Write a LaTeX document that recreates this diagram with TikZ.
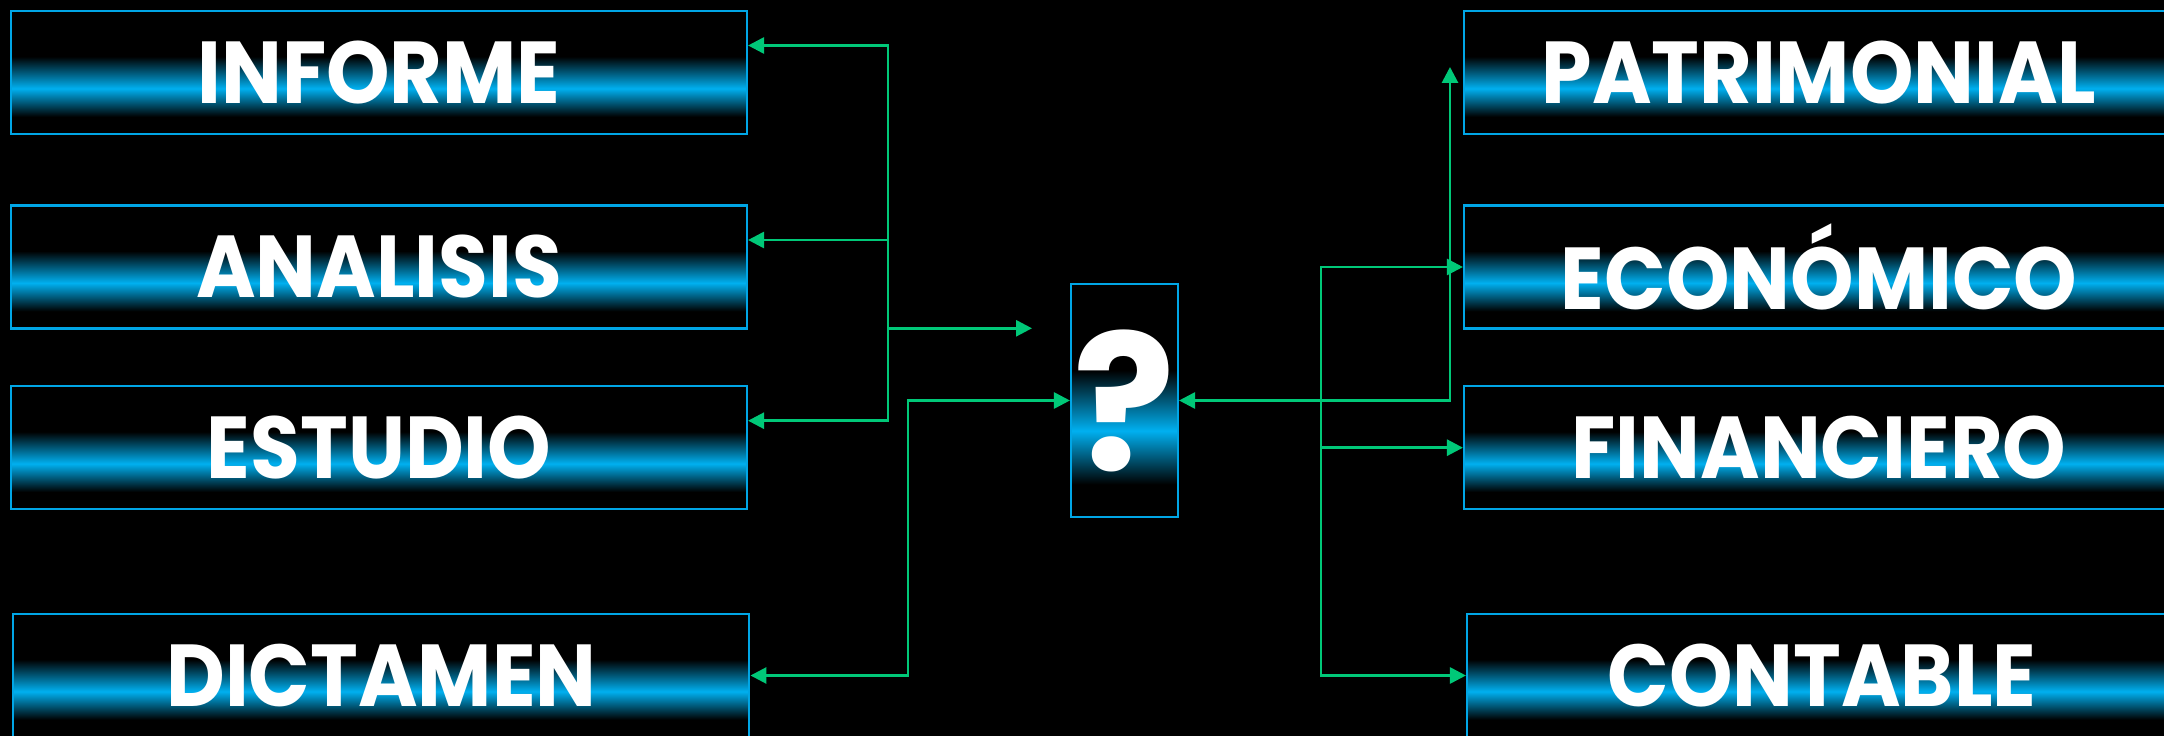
\documentclass[tikz,border=0pt]{standalone}
\usepackage{fontspec}
\setmainfont{Poppins}
\usepackage{tikz}
\usetikzlibrary{arrows.meta,positioning,calc}
\definecolor{bandcyan}{HTML}{00B0F0}
\definecolor{rimblue}{HTML}{00A6E6}
\definecolor{linkgreen}{HTML}{00C878}
\pgfdeclareverticalshading{glowband}{100bp}{color(0bp)=(black); color(32bp)=(black);
  color(43.5bp)=(bandcyan); color(56.5bp)=(black); color(100bp)=(black)}
\newcommand{\narrowtext}[1]{\scalebox{.92}[1]{#1}}
\tikzset{
  tagbox/.style={draw=rimblue,line width=0.6pt,shading=glowband,
    minimum width=7.36cm,minimum height=1.23cm,inner sep=0pt,
    text=white,font=\fontsize{25}{25}\selectfont\bfseries},
  rtagbox/.style={tagbox,minimum width=7.1cm},
  qbox/.style={draw=rimblue,line width=0.6pt,shading=glowband,
    minimum width=1.07cm,minimum height=2.33cm,inner sep=0pt,
    text=white,font=\fontsize{54}{54}\selectfont\bfseries},
  link/.style={draw=linkgreen,line width=0.8pt,
    -{Triangle[length=0.16cm,width=0.16cm]}},
  link2/.style={link,{Triangle[length=0.16cm,width=0.16cm]}-{Triangle[length=0.16cm,width=0.16cm]}}
}
\begin{document}
\begin{tikzpicture}
  \clip (0,0) rectangle (21.64,7.36);
  \fill[black] (0,0) rectangle (21.64,7.36);
  % left column
  \node[tagbox] (informe) at (3.79,6.635) {\narrowtext{INFORME}};
  \node[tagbox] (analisis) at (3.79,4.69) {\narrowtext{ANALISIS}};
  \node[tagbox] (estudio) at (3.79,2.883) {\narrowtext{ESTUDIO}};
  \node[tagbox] (dictamen) at (3.814,0.605) {\narrowtext{DICTAMEN}};
  % right column
  \node[rtagbox] (patrimonial) at (18.19,6.635) {\narrowtext{PATRIMONIAL}};
  \node[rtagbox] (economico) at (18.19,4.69) {\narrowtext{ECONÓMICO}};
  \node[rtagbox] (financiero) at (18.19,2.883) {\narrowtext{FINANCIERO}};
  \node[rtagbox] (contable) at (18.22,0.605) {\narrowtext{CONTABLE}};
  % center
  \node[qbox] (q) at (11.245,3.355) {?};
  % connectors, left
  \coordinate (lbus) at (8.88,0);
  \coordinate (dbus) at (9.08,0);
  \coordinate (rbus) at (13.21,0);
  \coordinate (ia) at ([yshift=.27cm]informe.east);
  \coordinate (aa) at ([yshift=.27cm]analisis.east);
  \coordinate (ea) at ([yshift=.27cm]estudio.east);
  \coordinate (qfree) at (10.32,4.077);
  \coordinate (ptop) at (14.50,6.69);
  \draw[link2] (ia) -- (ia -| lbus) -- (ea -| lbus) -- (ea);
  \draw[link] (aa -| lbus) -- (aa);
  \draw[link] (qfree -| lbus) -- (qfree);
  \draw[link2] (q.west) -- (q.west -| dbus) |- (dictamen.east);
  % connectors, right
  \draw[link2] (ptop) |- (q.east);
  \draw[link2] (economico.west) -- (economico.west -| rbus) |- (contable.west);
  \draw[link] (financiero.west -| rbus) -- (financiero.west);
\end{tikzpicture}
\end{document}
